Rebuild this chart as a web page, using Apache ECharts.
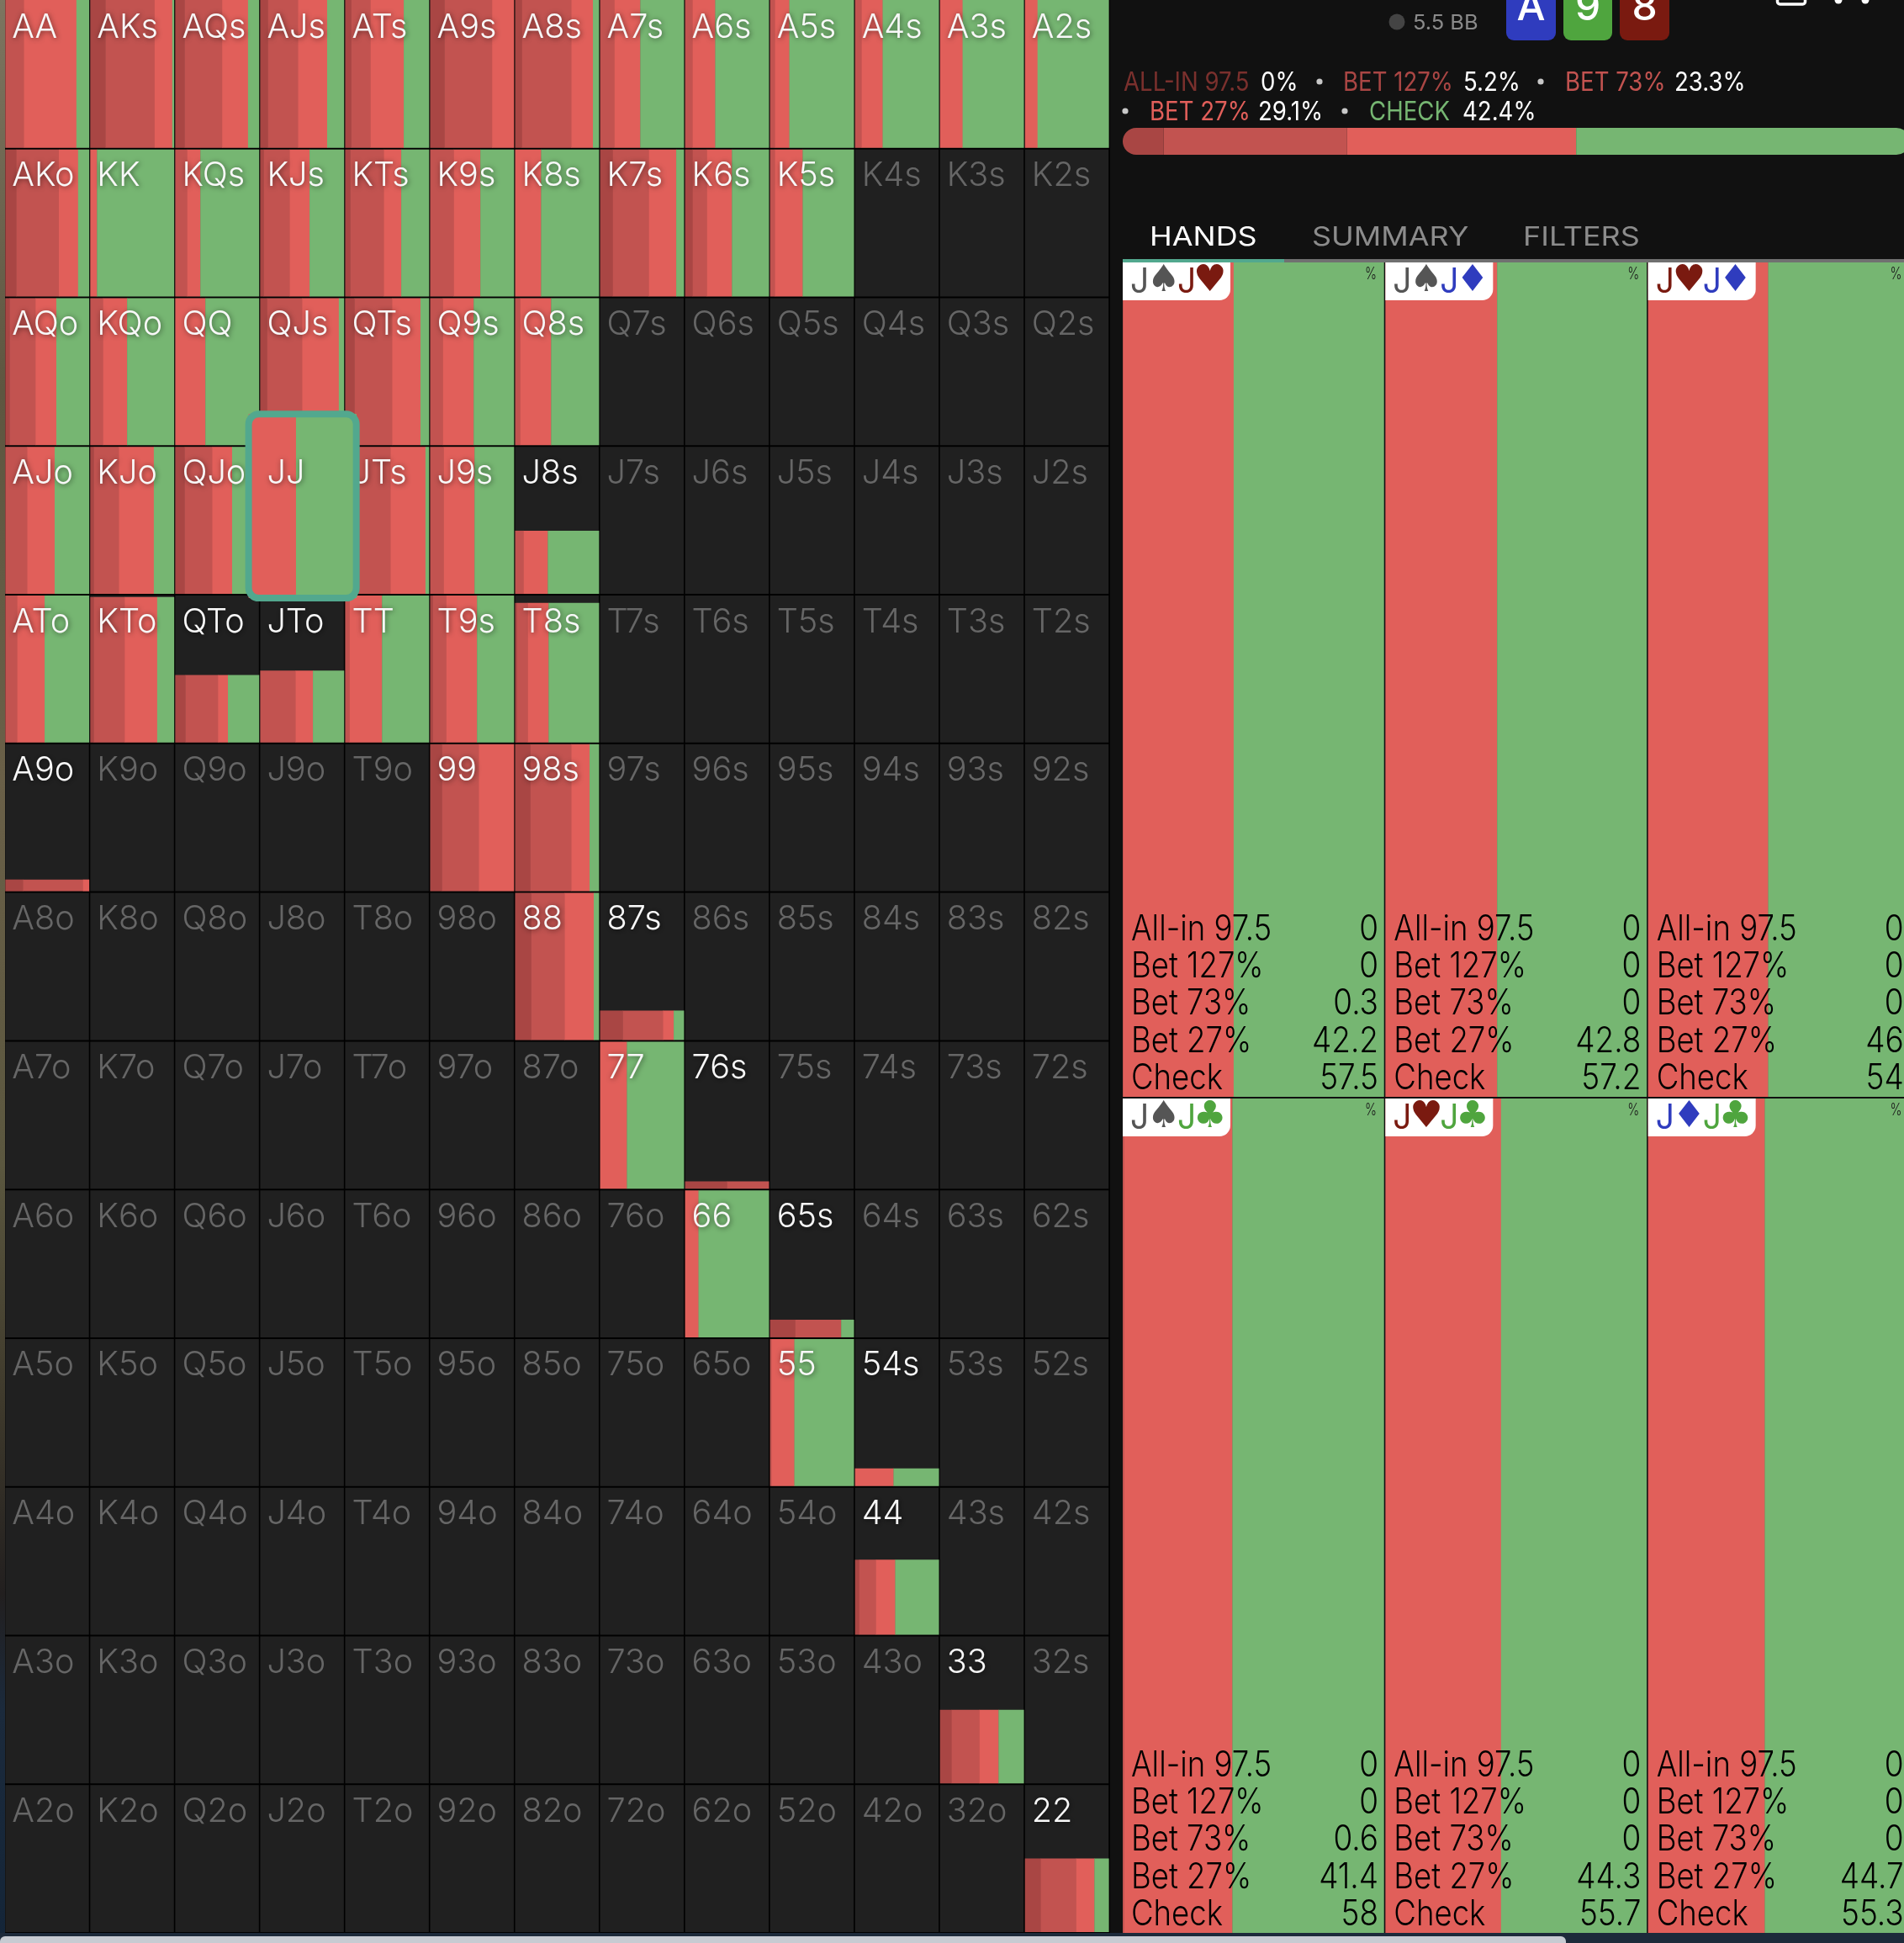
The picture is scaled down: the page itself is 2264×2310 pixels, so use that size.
<!DOCTYPE html>
<html><head><meta charset="utf-8">
<style>html,body{margin:0;padding:0;background:#111;overflow:hidden}#c{width:2264px;height:2310px}</style>
<script src="https://cdn.jsdelivr.net/npm/echarts@6/dist/echarts.min.js"></script></head>
<body><div id="c"></div>
<script>
// ---------- data ----------
const ranks = ['A','K','Q','J','T','9','8','7','6','5','4','3','2'];
// every entry: [bet127, bet73, bet27, check, heightFraction]; null = hand not in range
const rowA = [[0,22,63,15,1],[18,59,21,2,1],[11,45,31,13,1],[9,36,35,20,1],[7,23,40,30,1],[17,57,26,0,1],[8,59,26,7,1],[0,17,31,52,1],[0,9,27,64,1],[0,6,17,77,1],[0,8,25,67,1],[0,0,27,73,1],[0,0,15,85,1]];
const rowK = [[13,51,23,13,1],[0,0,8,92,1],[0,14,16,70,1],[4,31,24,41,1],[6,40,21,33,1],[0,28,32,40,1],[0,0,31,69,1],[15,43,33,9,1],[9,17,30,44,1],[0,6,33,61,1],null,null,null];
const rowQ = [[5,31,25,39,1],[0,15,29,56,1],[0,0,36,64,1],[8,42,44,6,1],[11,45,34,10,1],[0,15,37,48,1],[0,6,37,57,1],null,null,null,null,null,null];
const rowJ = [[0,26,33,41,1],[4,30,42,24,1],[11,33,24,32,1],[0,0,44,56,1],[5,49,42,4,1],[0,16,37,47,1],[0,10,29,61,0.43],null,null,null,null,null,null];
const rowT = [[0,14,33,53,1],[4,37,39,20,0.99],[12,39,12,37,0.46],[0,42,21,37,0.49],[0,5,39,56,1],[3,16,37,44,1],[2,13,25,60,0.95],null,null,null,null,null,null];
const row9 = [[21,72,7,0,0.08],null,null,null,null,[14,44,42,0,1],[18,49,22,11,1],null,null,null,null,null,null];
const row8 = [null,null,null,null,null,null,[19,40,35,6,1],[27,48,13,12,0.2],null,null,null,null,null];
const row7 = [null,null,null,null,null,null,null,[0,0,32,68,1],[50,50,0,0,0.05],null,null,null,null];
const row6 = [null,null,null,null,null,null,null,null,[0,0,16,84,1],[30,55,0,15,0.12],null,null,null];
const row5 = [null,null,null,null,null,null,null,null,null,[0,2,27,71,1],[0,0,46,54,0.12],null,null];
const row4 = [null,null,null,null,null,null,null,null,null,null,[5,20,23,52,0.51],null,null];
const row3 = [null,null,null,null,null,null,null,null,null,null,null,[14,33,23,30,0.5],null];
const row2 = [null,null,null,null,null,null,null,null,null,null,null,null,[19,42,22,17,0.5]];
const matrixRows = [rowA,rowK,rowQ,rowJ,rowT,row9,row8,row7,row6,row5,row4,row3,row2];
const selectedHand = [3,3];

const legendLabels = ['ALL-IN 97.5','BET 127%','BET 73%','BET 27%','CHECK'];
const legendValues = [0,5.2,23.3,29.1,42.4];
const legendColors = ['#7A302D','#A94644','#C25350','#E15F5A','#76B672'];

const tabNames = ['HANDS','SUMMARY','FILTERS'];
const boardCards = ['A','9','8'];
const potText = '5.5 BB';

const comboLabels = [['J','♠','J','♥'],['J','♠','J','♦'],['J','♥','J','♦'],['J','♠','J','♣'],['J','♥','J','♣'],['J','♦','J','♣']];
const comboActions = ['All-in 97.5','Bet 127%','Bet 73%','Bet 27%','Check'];
const comboAllIn = [0,0,0,0,0,0];
const comboBet127 = [0,0,0,0,0,0];
const comboBet73 = [0.3,0,0,0.6,0,0];
const comboBet27 = [42.2,42.8,46,41.4,44.3,44.7];
const comboCheck = [57.5,57.2,54,58,55.7,55.3];

// ---------- style ----------
const FONT = 'Inter, "Noto Sans", sans-serif';
const suitColor = {'♠':'#555555','♥':'#7A1A10','♦':'#2F3CBE','♣':'#4FA53E'};
const cellBg = '#202020';
const teal = '#52A88E';

function handLabel(r,c){
  if(r===c) return ranks[r]+ranks[c];
  return r<c ? ranks[r]+ranks[c]+'s' : ranks[c]+ranks[r]+'o';
}
function segs(left,width,top,height,vals,colors){
  const out=[]; let x=left;
  vals.forEach((v,i)=>{
    if(v<=0) return;
    const w=width*v/100;
    out.push({type:'rect',shape:{x:x,y:top,width:w+0.4,height:height},style:{fill:colors[i]}});
    x+=w;
  });
  return out;
}
const handColors = legendColors.slice(1);
const matrixData=[];
matrixRows.forEach((row,r)=>row.forEach((m,c)=>{
  const v=m||[0,0,0,0,0];
  matrixData.push([c,r,v[0],v[1],v[2],v[3],v[4],m?1:0]);
}));

function handText(r,c,x,y,active){
  return {type:'text',x:x,y:y,scaleX:0.99,style:{
    text:handLabel(r,c),font:'300 40px '+FONT,fill:active?'#F8F8F8':'#666666',align:'left',verticalAlign:'middle',
    textShadowColor:active?'rgba(0,0,0,0.55)':'transparent',textShadowBlur:active?6:0,textShadowOffsetX:1,textShadowOffsetY:1}};
}
function renderHand(params,api){
  const c=api.value(0), r=api.value(1), active=api.value(7);
  const a=api.coord([c,r]), b=api.coord([c+1,r+1]);
  const x0=a[0]+0.8, y0=a[1]+(r===0?0:1), w=b[0]-a[0]-1.6, h=b[1]-a[1]-(r===0?1:2);
  const frac=api.value(6);
  const kids=[{type:'rect',shape:{x:x0,y:y0,width:w,height:h},style:{fill:cellBg}}];
  if(active){
    const hh=h*frac;
    kids.push(...segs(x0,w,y0+h-hh,hh,[api.value(2),api.value(3),api.value(4),api.value(5)],handColors));
  }
  kids.push(handText(r,c,x0+8,a[1]+32.5,active));
  return {type:'group',children:kids};
}
function renderSelected(params,api){
  const c=api.value(0), r=api.value(1);
  const a=api.coord([c,r]), b=api.coord([c+1,r+1]);
  const x0=a[0]-13, x1=b[0]+14, y0=a[1]-38, y1=b[1]+4;
  const kids=segs(x0,x1-x0,y0,y1-y0,[api.value(2),api.value(3),api.value(4),api.value(5)],handColors);
  kids.push({type:'rect',shape:{x:x0,y:y0,width:x1-x0,height:y1-y0,r:12},style:{fill:'none',stroke:teal,lineWidth:8}});
  kids.push(handText(r,c,a[0]+9,a[1]+32.5,1));
  return {type:'group',children:kids};
}
const comboData=comboLabels.map((l,i)=>[i%3,Math.floor(i/3),comboAllIn[i],comboBet127[i],comboBet73[i],comboBet27[i],comboCheck[i],i]);
function renderCombo(params,api){
  const c=api.value(0), r=api.value(1), idx=api.value(7);
  const a=api.coord([c,r]), b=api.coord([c+1,r+1]);
  const x0=a[0], y0=a[1], w=b[0]-a[0]-2, h=b[1]-a[1]-2;
  const vals=[api.value(2),api.value(3),api.value(4),api.value(5),api.value(6)];
  const kids=segs(x0,w,y0,h,vals,legendColors);
  kids.push({type:'rect',shape:{x:x0,y:y0,width:128,height:45,r:[0,0,13,0]},style:{fill:'#FFFFFF'}});
  const tagX=[9,29,65,84];
  comboLabels[idx].forEach((t,k)=>{
    const col = k%2===0 ? suitColor[comboLabels[idx][k+1]] : suitColor[t];
    if(k%2===0) kids.push({type:'text',x:x0+tagX[k],y:y0+24,scaleX:0.95,style:{text:t,font:'400 41px '+FONT,fill:col,align:'left',verticalAlign:'middle'}});
    else kids.push({type:'text',x:x0+tagX[k],y:y0+23,style:{text:t,font:'400 44px "DejaVu Sans"',fill:col,align:'left',verticalAlign:'middle'}});
  });
  kids.push({type:'text',x:x0+302,y:y0+14,scaleX:0.75,style:{text:'%',font:'300 20px '+FONT,fill:'#1A1A1A',align:'right',verticalAlign:'middle'}});
  comboActions.forEach((t,k)=>{
    const yy=b[1]-201+k*44.4;
    kids.push({type:'text',x:x0+10,y:yy,scaleX:0.87,style:{text:t,font:'300 42px '+FONT,fill:'#000',align:'left',verticalAlign:'middle'}});
    kids.push({type:'text',x:x0+304,y:yy,scaleX:0.88,style:{text:String(vals[k]),font:'300 42px '+FONT,fill:'#000',align:'right',verticalAlign:'middle'}});
  });
  return {type:'group',children:kids};
}

// ---------- decoration & header ----------
function txt(x,y,t,font,fill,sx,ext){return Object.assign({type:'text',x:x,y:y,scaleX:sx||1,z:20,silent:true,style:{text:t,font:font,fill:fill,align:'left',verticalAlign:'middle'}},ext||{});}
const g=[];
g.push({type:'rect',z:0,shape:{x:0,y:0,width:1320,height:2298},style:{fill:'#000'}});
g.push({type:'rect',z:1,shape:{x:0,y:0,width:6,height:2310},style:{fill:{type:'linear',x:0,y:0,x2:0,y2:1,colorStops:[
 {offset:0,color:'#7d7560'},{offset:0.2,color:'#5e5640'},{offset:0.4,color:'#6a6048'},{offset:0.6,color:'#5b573f'},{offset:0.72,color:'#3f3a2c'},{offset:0.82,color:'#221f1f'},{offset:0.88,color:'#1b2a3c'},{offset:1,color:'#142538'}]}}});
g.push({type:'rect',z:1,shape:{x:0,y:2298,width:2264,height:12},style:{fill:'#1D2A3A'}});
g.push({type:'rect',z:2,shape:{x:0,y:2302,width:1862,height:8,r:[6,6,0,0]},style:{fill:'#C7CBD2'}});
// pot
g.push({type:'circle',z:20,shape:{cx:1661,cy:26,r:9.5},style:{fill:'#444'}});
g.push(txt(1680,27.5,potText,'400 24px '+FONT,'#8A8A8A',1.06));
// board
const cardX=[1791,1859,1926], cardW=[59,58,59], cardCol=['#2F3CBE','#4FA53E','#7A1A10'];
boardCards.forEach((t,i)=>{
  g.push({type:'rect',z:20,shape:{x:cardX[i],y:-10,width:cardW[i],height:58,r:9},style:{fill:cardCol[i]}});
  g.push({type:'text',z:21,x:cardX[i]+cardW[i]/2,y:34,style:{text:t,font:'500 48px '+FONT,fill:'#fff',align:'center',verticalAlign:'bottom'}});
});
// icons
g.push({type:'rect',z:20,shape:{x:2113.5,y:-8,width:33,height:13,r:3},style:{fill:'none',stroke:'#fff',lineWidth:3.5}});
g.push({type:'circle',z:20,shape:{cx:2186,cy:0,r:4.5},style:{fill:'#fff'}});
g.push({type:'circle',z:20,shape:{cx:2218,cy:0,r:4.5},style:{fill:'#fff'}});
// legend lines
const legFont='400 31px '+FONT;
const legPos=[[1336,98.5,1499],[1597,98.5,1740],[1861,98.5,1991],[1367,133.5,1496],[1628,133.5,1739]];
legendLabels.forEach((t,i)=>{
  const p=legPos[i];
  g.push(txt(p[0],p[1],t,legFont,legendColors[i],0.89));
  g.push(txt(p[2],p[1],legendValues[i]+'%',legFont,'#fff',0.89));
});
[[1569,97],[1832,97],[1338,132],[1599,132]].forEach(p=>g.push({type:'circle',z:20,shape:{cx:p[0],cy:p[1],r:3.6},style:{fill:'#C8C8C8'}}));
// tabs
const tabPos=[1367,1560,1811];
tabNames.forEach((t,i)=>g.push(txt(tabPos[i],282.5,t,'400 31px '+FONT,i===0?'#FFFFFF':'#8C8C8C',1.16)));
g.push({type:'rect',z:20,shape:{x:1335,y:308,width:929,height:4},style:{fill:'#707070'}});
g.push({type:'rect',z:21,shape:{x:1335,y:308,width:192,height:4},style:{fill:teal}});

// stacked share bar
const barSeries=legendValues.map((v,i)=>({type:'bar',name:legendLabels[i],xAxisIndex:2,yAxisIndex:2,stack:'s',barWidth:32,silent:true,
  data:[v],itemStyle:{color:legendColors[i],borderRadius:i===1?[16,0,0,16]:(i===4?[0,16,16,0]:0)}}));

const noAxis=(extra)=>Object.assign({type:'value',show:false,scale:false,splitLine:{show:false}},extra);
const chart=echarts.init(document.getElementById('c'),null,{renderer:'canvas',width:2264,height:2310});
chart.setOption({
  animation:false,backgroundColor:'#111111',
  grid:[
    {left:5.5,top:0,width:1313.5,height:2298,outerBoundsMode:'none'},
    {left:1335,top:312,width:937,height:1988,outerBoundsMode:'none'},
    {left:1335,top:152,width:936,height:32,outerBoundsMode:'none'}
  ],
  xAxis:[noAxis({gridIndex:0,min:0,max:13}),noAxis({gridIndex:1,min:0,max:3}),noAxis({gridIndex:2,min:0,max:100})],
  yAxis:[noAxis({gridIndex:0,min:0,max:13,inverse:true}),noAxis({gridIndex:1,min:0,max:2,inverse:true}),{type:'category',gridIndex:2,show:false,data:['range']}],
  graphic:{elements:g},
  series:[
    {type:'custom',xAxisIndex:0,yAxisIndex:0,z:3,silent:true,clip:false,renderItem:renderHand,data:matrixData,encode:{x:0,y:1}},
    {type:'custom',xAxisIndex:0,yAxisIndex:0,z:6,silent:true,clip:false,renderItem:renderSelected,
      data:[[selectedHand[1],selectedHand[0]].concat(rowJ[3])],encode:{x:0,y:1}},
    {type:'custom',xAxisIndex:1,yAxisIndex:1,z:3,silent:true,clip:false,renderItem:renderCombo,data:comboData,encode:{x:0,y:1}},
    ...barSeries
  ]
});
</script></body></html>
